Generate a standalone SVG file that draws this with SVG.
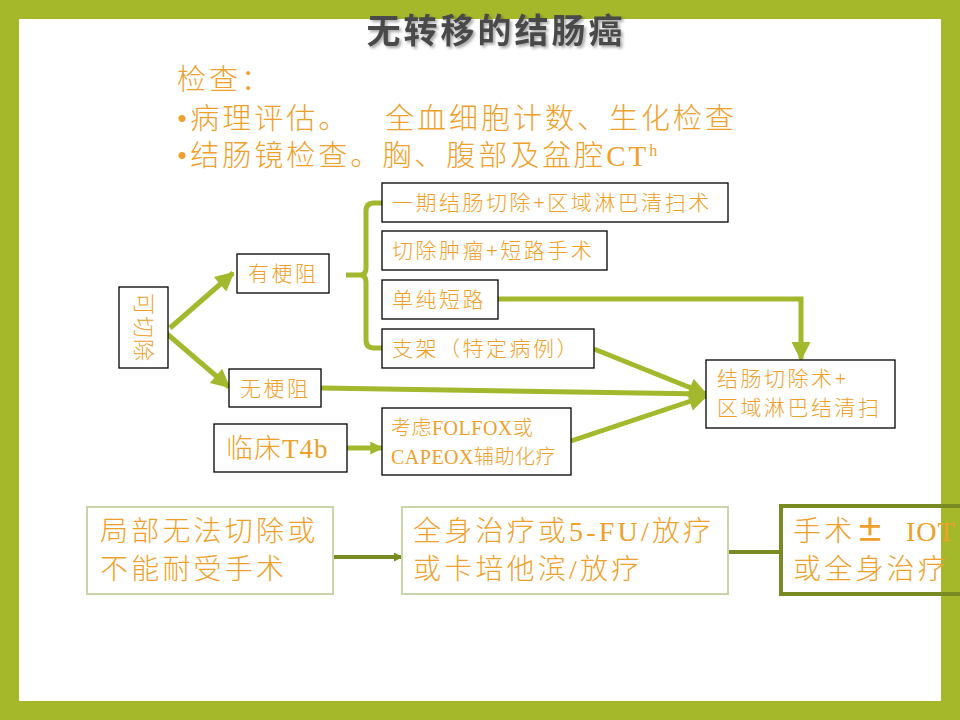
<svg xmlns="http://www.w3.org/2000/svg" width="960" height="720" viewBox="0 0 960 720">
<style>
.t{font-family:"Liberation Serif","Noto Sans CJK SC",serif;fill:#EF9F2A;font-weight:300}
.n{font-size:21px;letter-spacing:2.5px}
.big{font-size:29px;letter-spacing:3px}
.bot{font-size:28px;letter-spacing:3.2px}
.box{fill:#fff;stroke:#000;stroke-width:1.3}
.lbox{fill:#fff;stroke:#C9D4A8;stroke-width:2}
.c{fill:none;stroke:#A3B82C;stroke-width:5}
.cd{fill:none;stroke:#788A22;stroke-width:4}
</style>
<defs>
<marker id="ah" viewBox="0 0 10 10" refX="9" refY="5" markerWidth="21" markerHeight="19" markerUnits="userSpaceOnUse" orient="auto"><path d="M0,0 L10,5 L0,10 z" fill="#A3B82C"/></marker>
<marker id="ahs" viewBox="0 0 10 10" refX="9" refY="5" markerWidth="14" markerHeight="13" markerUnits="userSpaceOnUse" orient="auto"><path d="M0,0 L10,5 L0,10 z" fill="#A3B82C"/></marker>
<marker id="ahd" viewBox="0 0 10 10" refX="9" refY="5" markerWidth="9" markerHeight="9" markerUnits="userSpaceOnUse" orient="auto"><path d="M0,0 L10,5 L0,10 z" fill="#788A22"/></marker>
<filter id="sh" x="-10%" y="-30%" width="120%" height="160%"><feDropShadow dx="2" dy="2" stdDeviation="1.5" flood-color="#000" flood-opacity="0.35"/></filter>
</defs>
<rect x="0" y="0" width="960" height="720" fill="#A5B82A"/>
<rect x="19" y="19" width="922" height="682" fill="#fff"/>
<g id="title"><text x="496" y="43" text-anchor="middle" filter="url(#sh)" style="font-family:'Noto Sans CJK SC',sans-serif;font-weight:700;font-size:34px;letter-spacing:3px;fill:#4A4A4A">无转移的结肠癌</text></g>
<g id="exam">
<text class="t big" x="177" y="90">检查：</text>
<text class="t big" x="177" y="129">•病理评估。</text>
<text class="t big" x="385" y="129">全血细胞计数、生化检查</text>
<text class="t big" x="177" y="166">•结肠镜检查。胸、腹部及盆腔CT<tspan font-size="16" dy="-10" letter-spacing="0">h</tspan></text>
</g>
<g id="connectors">
<path class="c" d="M170,328 L233,273" marker-end="url(#ah)"/>
<path class="c" d="M166,333 L229,387" marker-end="url(#ah)"/>
<path class="c" d="M346,275 H360 M382,203 H374 Q366,203 366,211 V268 Q366,275 360,275 Q366,275 366,282 V340 Q366,348 374,348 H382"/>
<path class="c" d="M498,299 H801 V359" marker-end="url(#ah)"/>
<path class="c" d="M594,349 L706,394" marker-end="url(#ah)"/>
<path class="c" d="M321,388 L706,394" marker-end="url(#ah)"/>
<path class="c" d="M571,441 L706,396" marker-end="url(#ah)"/>
<path class="c" d="M347,448 H382" marker-end="url(#ahs)"/>
<path class="cd" d="M333,557 H402" marker-end="url(#ahd)"/>
<path class="cd" d="M728,552 H781"/>
</g>
<g id="n_resectable"><rect class="box" x="119" y="287" width="49" height="81"/><text class="t" transform="translate(143.5,327.5) rotate(90)" text-anchor="middle" y="8" style="font-size:22px;letter-spacing:1px">可切除</text></g>
<g id="n_obst"><rect class="box" x="237" y="254" width="92" height="39"/><text class="t n" x="248" y="281">有梗阻</text></g>
<g id="n_noobst"><rect class="box" x="229" y="369" width="92" height="38"/><text class="t n" x="240" y="396">无梗阻</text></g>
<g id="n_t4b"><rect class="box" x="214" y="424" width="133" height="48"/><text class="t" x="226" y="458" style="font-size:27px;letter-spacing:1px">临床T4b</text></g>
<g id="n_opt1"><rect class="box" x="382" y="183" width="346" height="39"/><text class="t n" x="392" y="210">一期结肠切除+区域淋巴清扫术</text></g>
<g id="n_opt2"><rect class="box" x="382" y="231" width="225" height="39"/><text class="t n" x="392" y="258">切除肿瘤+短路手术</text></g>
<g id="n_opt3"><rect class="box" x="382" y="280" width="116" height="39"/><text class="t n" x="392" y="307">单纯短路</text></g>
<g id="n_opt4"><rect class="box" x="382" y="329" width="212" height="39"/><text class="t n" x="392" y="356">支架（特定病例）</text></g>
<g id="n_chemo"><rect class="box" x="382" y="408" width="189" height="67"/><text class="t" x="391" y="435" style="font-size:20px;letter-spacing:0.5px">考虑FOLFOX或</text><text class="t" x="391" y="464" style="font-size:20px;letter-spacing:0.5px">CAPEOX辅助化疗</text></g>
<g id="n_colectomy"><rect class="box" x="706" y="360" width="189" height="68"/><text class="t n" x="717" y="386">结肠切除术+</text><text class="t n" x="717" y="415">区域淋巴结清扫</text></g>
<g id="n_unres"><rect class="lbox" x="87" y="507" width="246" height="87"/><text class="t bot" x="100" y="541">局部无法切除或</text><text class="t bot" x="100" y="579">不能耐受手术</text></g>
<g id="n_systemic"><rect class="lbox" x="402" y="507" width="326" height="87"/><text class="t bot" x="413" y="541">全身治疗或5-FU/放疗</text><text class="t bot" x="413" y="579">或卡培他滨/放疗</text></g>
<g id="n_surgery"><path d="M962,506 H781 V594 H962" fill="none" stroke="#788A22" stroke-width="4"/><text class="t bot" x="793" y="541">手术<tspan x="856" font-weight="700" style="font-family:'Noto Sans CJK SC',sans-serif">±</tspan><tspan x="906" letter-spacing="1">IOT</tspan></text><text class="t bot" x="793" y="579">或全身治疗</text></g>
</svg>
